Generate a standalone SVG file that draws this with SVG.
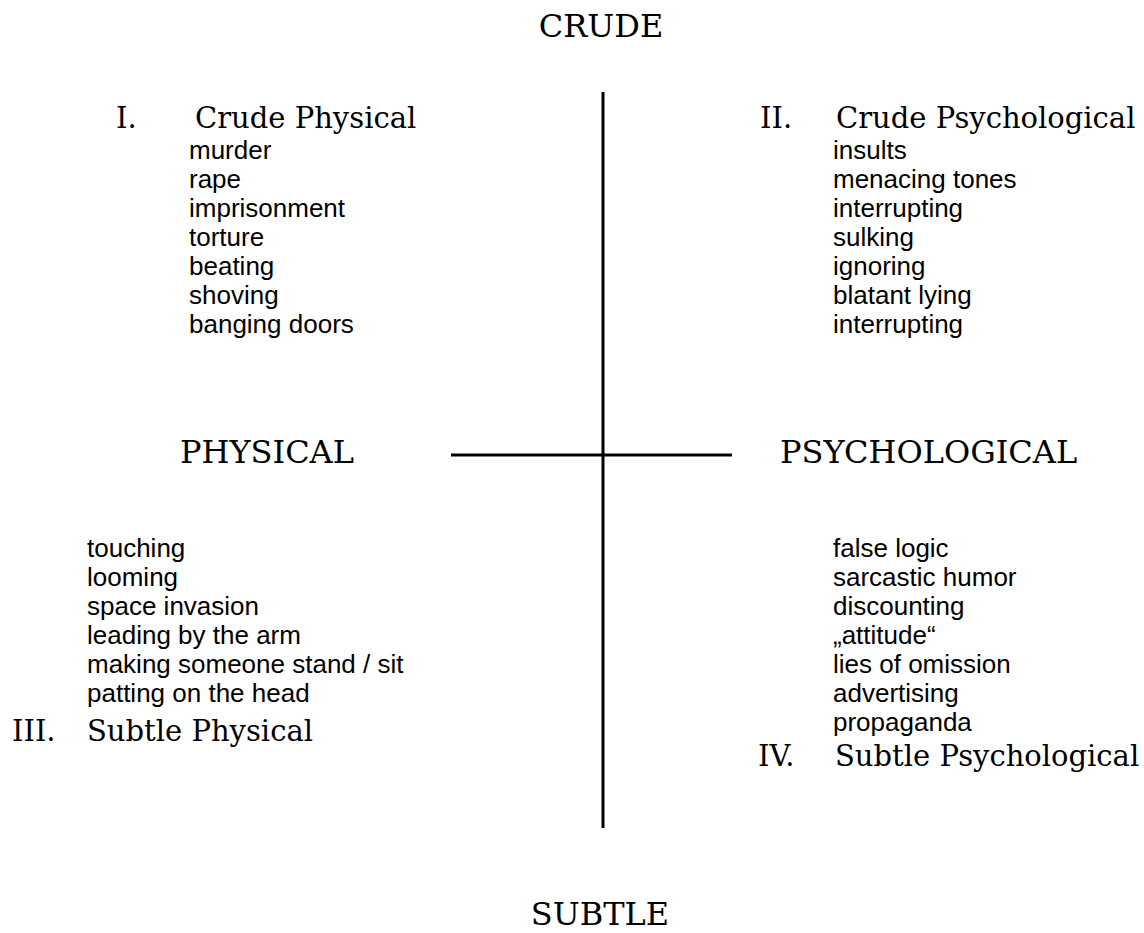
<svg xmlns="http://www.w3.org/2000/svg" width="1144" height="933" viewBox="0 0 1144 933">
<style>
.ax{font-family:"DejaVu Serif","Liberation Serif",serif;font-size:32px;fill:#000}
.ti{font-family:"DejaVu Serif","Liberation Serif",serif;font-size:29px;fill:#000}
.it{font-family:"Liberation Sans",Arial,sans-serif;font-size:26px;fill:#000}
.ln{stroke:#000;stroke-width:3;fill:none}
</style>
<rect width="1144" height="933" fill="#fff"/>
<g id="connectors">
<line class="ln" x1="603" y1="92" x2="603" y2="828"/>
<line class="ln" x1="451" y1="455" x2="732" y2="455"/>
</g>
<g id="axis-crude"><text class="ax" x="601" y="37" text-anchor="middle">CRUDE</text></g>
<g id="axis-subtle"><text class="ax" x="600" y="925" text-anchor="middle">SUBTLE</text></g>
<g id="axis-physical"><text class="ax" x="180" y="463">PHYSICAL</text></g>
<g id="axis-psychological"><text class="ax" x="780" y="463">PSYCHOLOGICAL</text></g>
<g id="q1">
<text class="ti" x="116" y="128">I.</text>
<text class="ti" x="195" y="128">Crude Physical</text>
<text class="it">
<tspan x="189" y="159">murder</tspan>
<tspan x="189" y="188">rape</tspan>
<tspan x="189" y="217">imprisonment</tspan>
<tspan x="189" y="246">torture</tspan>
<tspan x="189" y="275">beating</tspan>
<tspan x="189" y="304">shoving</tspan>
<tspan x="189" y="333">banging doors</tspan>
</text>
</g>
<g id="q2">
<text class="ti" x="760" y="128">II.</text>
<text class="ti" x="836" y="128">Crude Psychological</text>
<text class="it">
<tspan x="833" y="159">insults</tspan>
<tspan x="833" y="188">menacing tones</tspan>
<tspan x="833" y="217">interrupting</tspan>
<tspan x="833" y="246">sulking</tspan>
<tspan x="833" y="275">ignoring</tspan>
<tspan x="833" y="304">blatant lying</tspan>
<tspan x="833" y="333">interrupting</tspan>
</text>
</g>
<g id="q3">
<text class="it">
<tspan x="87" y="557">touching</tspan>
<tspan x="87" y="586">looming</tspan>
<tspan x="87" y="615">space invasion</tspan>
<tspan x="87" y="644">leading by the arm</tspan>
<tspan x="87" y="673">making someone stand / sit</tspan>
<tspan x="87" y="702">patting on the head</tspan>
</text>
<text class="ti" x="12" y="741">III.</text>
<text class="ti" x="87" y="741">Subtle Physical</text>
</g>
<g id="q4">
<text class="it">
<tspan x="833" y="557">false logic</tspan>
<tspan x="833" y="586">sarcastic humor</tspan>
<tspan x="833" y="615">discounting</tspan>
<tspan x="833" y="644">„attitude“</tspan>
<tspan x="833" y="673">lies of omission</tspan>
<tspan x="833" y="702">advertising</tspan>
<tspan x="833" y="731">propaganda</tspan>
</text>
<text class="ti" x="758" y="766">IV.</text>
<text class="ti" x="835" y="766">Subtle Psychological</text>
</g>
</svg>
